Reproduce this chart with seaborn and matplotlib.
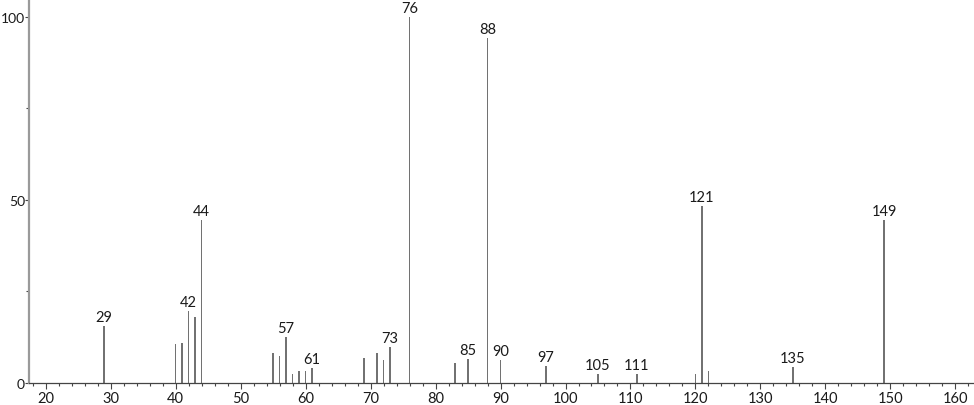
import numpy as np
import pandas as pd
import matplotlib.pyplot as plt
import seaborn as sns
from matplotlib.ticker import MultipleLocator

# 질량 스펙트럼 피크 (m/z, 상대 강도)
mz = [29, 40, 41, 42, 43, 44, 55, 56, 57, 58, 59, 60, 61,
      69, 71, 72, 73, 76, 83, 85, 88, 90, 97, 105, 111,
      120, 121, 122, 135, 149]
intensity = [15.6, 10.7, 10.9, 19.8, 17.9, 44.6, 8.1, 7.5, 12.6, 2.4, 3.3, 3.2, 4.0,
             6.9, 8.3, 6.3, 9.8, 100.0, 5.4, 6.6, 94.3, 6.3, 4.6, 2.5, 2.5,
             2.4, 48.3, 3.2, 4.3, 44.6]
labeled = [29, 42, 44, 57, 61, 73, 76, 85, 88, 90, 97, 105, 111, 121, 135, 149]

df = pd.DataFrame({'mz': mz, 'intensity': intensity})

sns.set_theme(style='white')
plt.rcParams['font.family'] = ['Lato', 'DejaVu Sans']

fig = plt.figure(figsize=(9.74, 4.06), dpi=100)
ax = fig.add_axes([0.0298, 0.0542, 0.9692, 0.9458])

sns.barplot(data=df, x='mz', y='intensity', native_scale=True, width=0.22,
            color='#727272', saturation=1, linewidth=0, errorbar=None, ax=ax)

# 주요 피크 라벨
for m, v in zip(mz, intensity):
    if m in labeled:
        ax.annotate(str(m), (m, v), xytext=(0, 3.5), textcoords='offset points',
                    ha='center', va='baseline', fontsize=10.5, color='#1a1a1a')

ax.set_xlim(17.46, 162.7)
ax.set_ylim(0, 104.9)
ax.set_xlabel('')
ax.set_ylabel('')

ax.xaxis.set_major_locator(MultipleLocator(10))
ax.xaxis.set_minor_locator(MultipleLocator(2))
ax.yaxis.set_major_locator(MultipleLocator(50))
ax.yaxis.set_minor_locator(MultipleLocator(25))

ax.tick_params(axis='x', which='major', direction='out', length=4, width=0.8,
               color='#444444', labelsize=10.5, labelcolor='#1a1a1a', pad=1.5,
               bottom=True)
ax.tick_params(axis='x', which='minor', direction='out', length=2, width=0.8,
               color='#444444', bottom=True)
ax.tick_params(axis='y', which='major', direction='out', length=3, width=0.8,
               color='#444444', labelsize=10, labelcolor='#1a1a1a', pad=0,
               left=True)
ax.tick_params(axis='y', which='minor', direction='out', length=2.5, width=0.8,
               color='#444444', left=True)

for s in ['top', 'right']:
    ax.spines[s].set_visible(False)
ax.spines['left'].set_color('#9a9a9a')
ax.spines['left'].set_linewidth(1.6)
ax.spines['bottom'].set_color('#444444')
ax.spines['bottom'].set_linewidth(0.9)

fig.savefig('out.png', dpi=100)
